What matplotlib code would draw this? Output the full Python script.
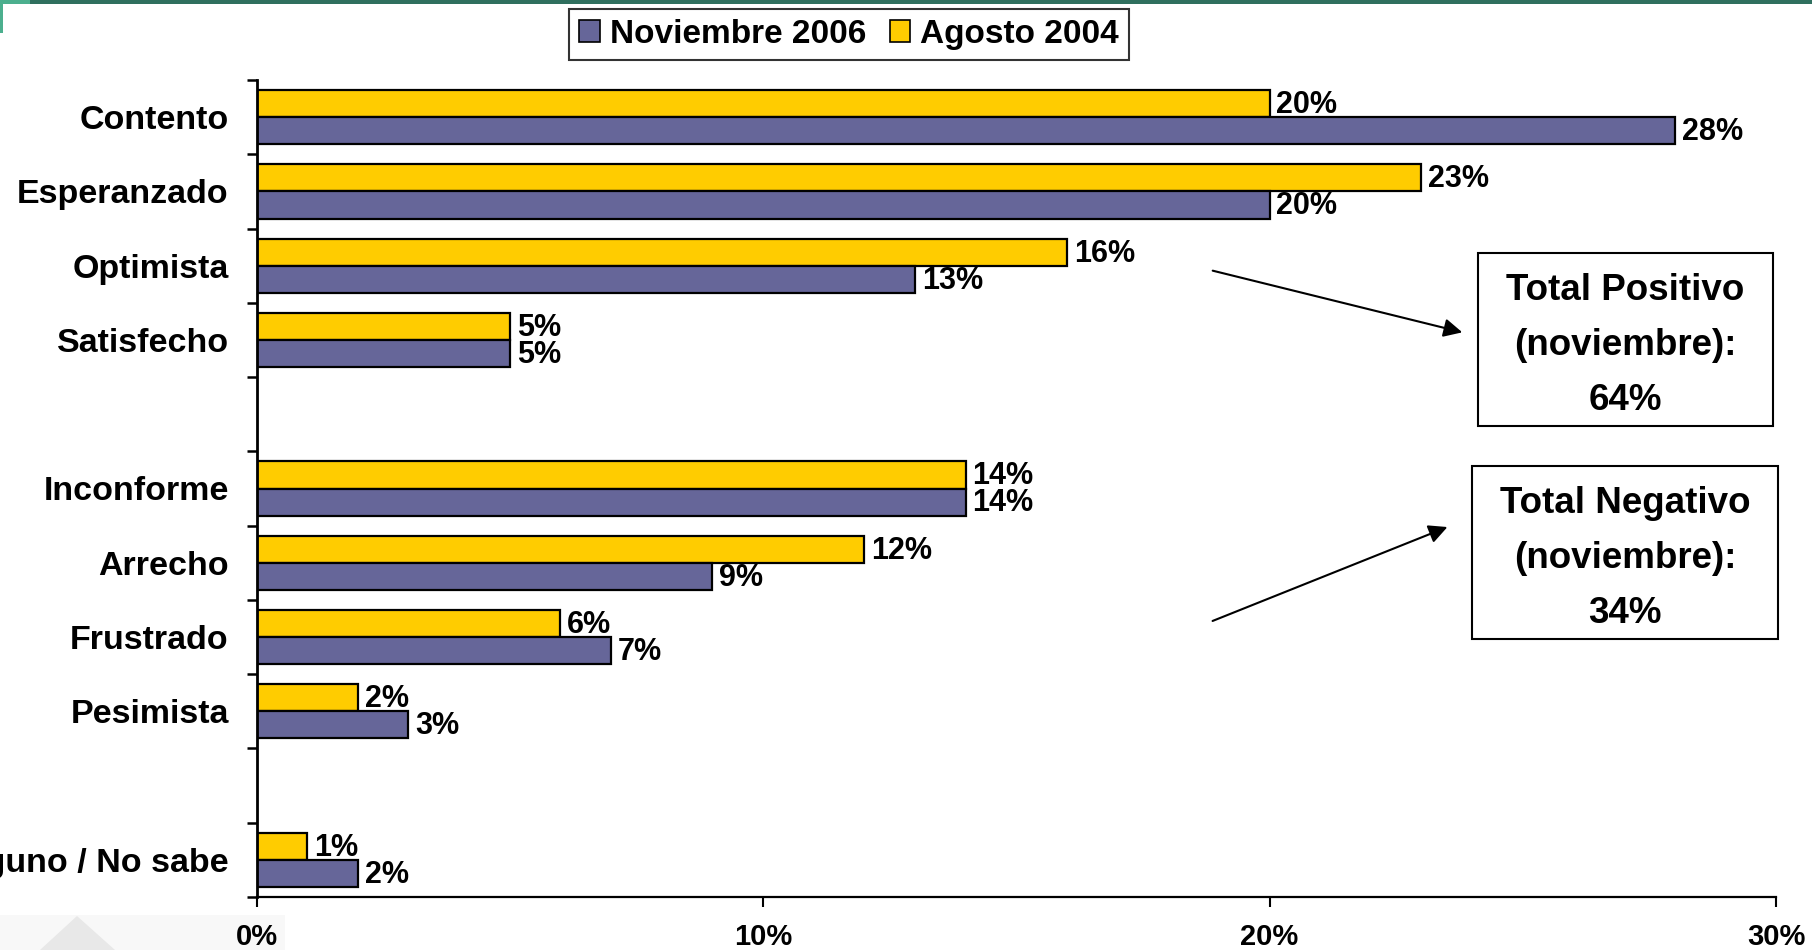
import matplotlib
matplotlib.use("Agg")
import matplotlib.pyplot as plt
import numpy as np
from matplotlib.patches import FancyArrowPatch, Patch, Polygon, Rectangle

# data (top to bottom); None = empty spacer row
categories = ["Contento", "Esperanzado", "Optimista", "Satisfecho", "",
              "Inconforme", "Arrecho", "Frustrado", "Pesimista", "",
              "Ninguno / No sabe"]
nov_2006 = [28, 20, 13, 5, None, 14, 9, 7, 3, None, 2]
ago_2004 = [20, 23, 16, 5, None, 14, 12, 6, 2, None, 1]
series_names = ["Noviembre 2006", "Agosto 2004"]
x_ticks = [0, 10, 20, 30]
box_texts = ["Total Positivo\n(noviembre):\n64%",
             "Total Negativo\n(noviembre):\n34%"]

PURPLE = "#666699"
YELLOW = "#FFCC00"
ARIAL = ["Liberation Sans", "DejaVu Sans"]

W, H = 1812, 950
fig = plt.figure(figsize=(W / 100, H / 100), dpi=100)
fig.patch.set_facecolor("white")


def fx(x):
    return x / W


def fy(y):
    # y measured from the top in pixels
    return 1 - y / H


ax = fig.add_axes([fx(256.5), fy(897), fx(1776 - 256.5), (897 - 80) / H])

pos = np.arange(len(categories))
h = 0.365
for i, (n, a) in enumerate(zip(nov_2006, ago_2004)):
    if n is None:
        continue
    ax.barh(pos[i] - h / 2, a, height=h, color=YELLOW, edgecolor="black", linewidth=1.6)
    ax.barh(pos[i] + h / 2, n, height=h, color=PURPLE, edgecolor="black", linewidth=1.6)
    ax.annotate(f"{a}%", (a, pos[i] - h / 2), xytext=(5, -1), textcoords="offset points",
                ha="left", va="center", fontsize=22, fontweight="bold", family=ARIAL)
    ax.annotate(f"{n}%", (n, pos[i] + h / 2), xytext=(5, -1), textcoords="offset points",
                ha="left", va="center", fontsize=22, fontweight="bold", family=ARIAL)

ax.set_xlim(0, 30)
ax.set_ylim(len(categories) - 0.5, -0.5)
ax.set_yticks(np.arange(len(categories) + 1) - 0.5, minor=False)
ax.set_yticklabels([])
ax.set_yticks(pos, minor=True)
ax.set_yticklabels(categories, minor=True, fontsize=24.5, fontweight="bold", family=ARIAL)
ax.tick_params(axis="y", which="minor", length=0, pad=20)
ax.tick_params(axis="y", which="major", length=7, width=1.8, direction="out")
ax.set_xticks(x_ticks)
ax.set_xticklabels([f"{t}%" for t in x_ticks], fontsize=21, fontweight="bold", family=ARIAL)
ax.tick_params(axis="x", length=7, width=1.5, direction="out", pad=12)
for s in ["top", "right"]:
    ax.spines[s].set_visible(False)
ax.spines["left"].set_linewidth(2)
ax.spines["bottom"].set_linewidth(1.6)

# legend
handles = [Patch(facecolor=PURPLE, edgecolor="black", linewidth=1.2),
           Patch(facecolor=YELLOW, edgecolor="black", linewidth=1.2)]
leg = fig.legend(handles, series_names, loc="upper center", bbox_to_anchor=(fx(849), fy(9)),
                 ncol=2, frameon=True, fancybox=False, handlelength=0.62, handleheight=0.62,
                 handletextpad=0.3, columnspacing=0.7, borderpad=0.3, borderaxespad=0,
                 prop={"family": ARIAL, "weight": "bold", "size": 24})
leg.get_frame().set_edgecolor("black")
leg.get_frame().set_linewidth(1.5)

# summary boxes
boxes = [(1478, 253, 1773, 426), (1472, 466, 1778, 639)]
for (x0, y0, x1, y1), txt in zip(boxes, box_texts):
    fig.add_artist(Rectangle((fx(x0), fy(y1)), fx(x1 - x0), (y1 - y0) / H,
                             transform=fig.transFigure, facecolor="white",
                             edgecolor="black", linewidth=1.5))
    fig.text(fx((x0 + x1) / 2), fy((y0 + y1) / 2 + 6), txt, ha="center", va="center",
             fontsize=26.5, fontweight="bold", family=ARIAL, linespacing=1.75)

# arrows
arrows = [((1210, 270), (1465, 333)), ((1210, 622), (1450, 526))]
for (sx, sy), (ex, ey) in arrows:
    fig.add_artist(FancyArrowPatch(
        (fx(sx), fy(sy)), (fx(ex), fy(ey)), transform=fig.transFigure,
        arrowstyle="-|>", mutation_scale=28, color="black", linewidth=1.5))

# slide decoration: green top rule and faint corner shape
fig.add_artist(Rectangle((0, fy(4)), 1, 4 / H, transform=fig.transFigure,
                         facecolor="#2f6f5e", edgecolor="none"))
fig.add_artist(Rectangle((0, fy(4)), fx(30), 4 / H, transform=fig.transFigure,
                         facecolor="#4caf8e", edgecolor="none"))
fig.add_artist(Rectangle((0, fy(33)), fx(2.5), 33 / H, transform=fig.transFigure,
                         facecolor="#4caf8e", edgecolor="none"))
fig.add_artist(Rectangle((0, 0), fx(285), 35 / H, transform=fig.transFigure,
                         facecolor="#f8f8f8", edgecolor="none", zorder=-5))
fig.add_artist(Polygon([(fx(40), 0), (fx(77), fy(916)), (fx(115), 0)], closed=True,
                       transform=fig.transFigure, facecolor="#e8e8e8",
                       edgecolor="none", zorder=-4))

fig.savefig("out.png", dpi=100)
